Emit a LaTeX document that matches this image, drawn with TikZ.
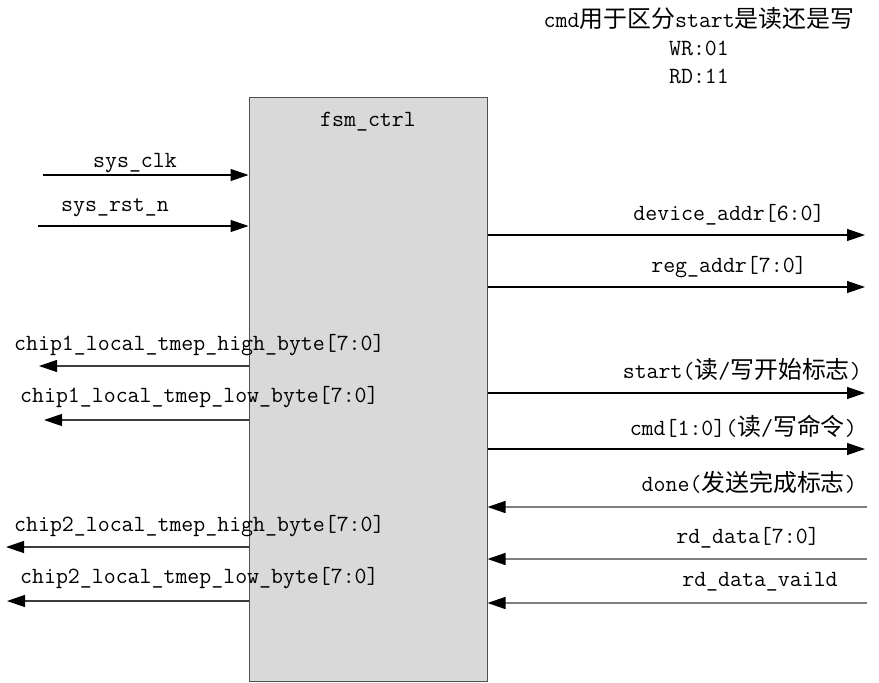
\documentclass[tikz,border=0pt]{standalone}
\usepackage{fontspec}
\newfontfamily\cjk{Noto Sans CJK SC}[Scale=1.03]
\usetikzlibrary{arrows.meta}
\definecolor{boxgray}{RGB}{217,217,217}
\definecolor{edgegray}{RGB}{80,80,80}
\definecolor{ingray}{RGB}{128,128,128}
\definecolor{outgray}{RGB}{60,60,60}
\tikzset{
  lbl/.style={font=\ttfamily\fontsize{23.2}{26}\selectfont, inner sep=0pt, text=black},
  sig/.style={line width=1.2pt, -{Triangle[length=18pt,width=12pt,black]}},
}
\begin{document}
\begin{tikzpicture}[x=1pt,y=-1pt]
\useasboundingbox (0,0) rectangle (879,683);
% module box
\node[draw=edgegray, fill=boxgray, line width=1pt, minimum width=238pt, minimum height=584pt, inner sep=0pt] (fsm) at (368,389) {};
\node[lbl, anchor=base] (title) at (368,126) {fsm\_ctrl};
% top note
\node[lbl, anchor=base] (note1) at (699,27) {cmd{\cjk 用于区分}start{\cjk 是读还是写}};
\node[lbl, anchor=base] (note2) at (699,55) {WR:01};
\node[lbl, anchor=base] (note3) at (699,83) {RD:11};
% coordinates of free ends
\coordinate (clk) at (43,175);
\coordinate (rst) at (38,226);
\coordinate (dev) at (865,235);
\coordinate (reg) at (865,287);
\coordinate (st) at (865,393);
\coordinate (cmd) at (865,449);
\coordinate (done) at (867,507);
\coordinate (rdd) at (867,559);
\coordinate (rdv) at (867,603);
\coordinate (c1h) at (39,366);
\coordinate (c1l) at (44,420);
\coordinate (c2h) at (6,547);
\coordinate (c2l) at (7,601);
% inputs left
\draw[sig, black] (clk) -- (clk -| fsm.west);
\draw[sig, black] (rst) -- (rst -| fsm.west);
% outputs right
\draw[sig, black] (dev -| fsm.east) -- (dev);
\draw[sig, black] (reg -| fsm.east) -- (reg);
\draw[sig, black] (st -| fsm.east) -- (st);
\draw[sig, black] (cmd -| fsm.east) -- (cmd);
% inputs right
\draw[sig, ingray, line width=1.5pt] (done) -- (done -| fsm.east);
\draw[sig, ingray, line width=1.5pt] (rdd) -- (rdd -| fsm.east);
\draw[sig, ingray, line width=1.5pt] (rdv) -- (rdv -| fsm.east);
% outputs left
\draw[sig, outgray] (c1h -| fsm.west) -- (c1h);
\draw[sig, outgray] (c1l -| fsm.west) -- (c1l);
\draw[sig, outgray] (c2h -| fsm.west) -- (c2h);
\draw[sig, outgray] (c2l -| fsm.west) -- (c2l);
% labels
\node[lbl, anchor=base] (lclk) at (135,167) {sys\_clk};
\node[lbl, anchor=base] (lrst) at (115,211) {sys\_rst\_n};
\node[lbl, anchor=base] (ldev) at (729,220) {device\_addr[6:0]};
\node[lbl, anchor=base] (lreg) at (729,272) {reg\_addr[7:0]};
\node[lbl, anchor=base east] (lst) at (862,378) {start({\cjk 读}/{\cjk 写开始标志})};
\node[lbl, anchor=base east] (lcmd) at (857,435) {cmd[1:0]({\cjk 读}/{\cjk 写命令})};
\node[lbl, anchor=base east] (ldone) at (857,491) {done({\cjk 发送完成标志})};
\node[lbl, anchor=base] (lrdd) at (748,543) {rd\_data[7:0]};
\node[lbl, anchor=base] (lrdv) at (760,586) {rd\_data\_vaild};
\node[lbl, anchor=base west] (lc1h) at (14,350) {chip1\_local\_tmep\_high\_byte[7:0]};
\node[lbl, anchor=base west] (lc1l) at (20,402) {chip1\_local\_tmep\_low\_byte[7:0]};
\node[lbl, anchor=base west] (lc2h) at (14,531) {chip2\_local\_tmep\_high\_byte[7:0]};
\node[lbl, anchor=base west] (lc2l) at (20,583) {chip2\_local\_tmep\_low\_byte[7:0]};
\end{tikzpicture}
\end{document}
